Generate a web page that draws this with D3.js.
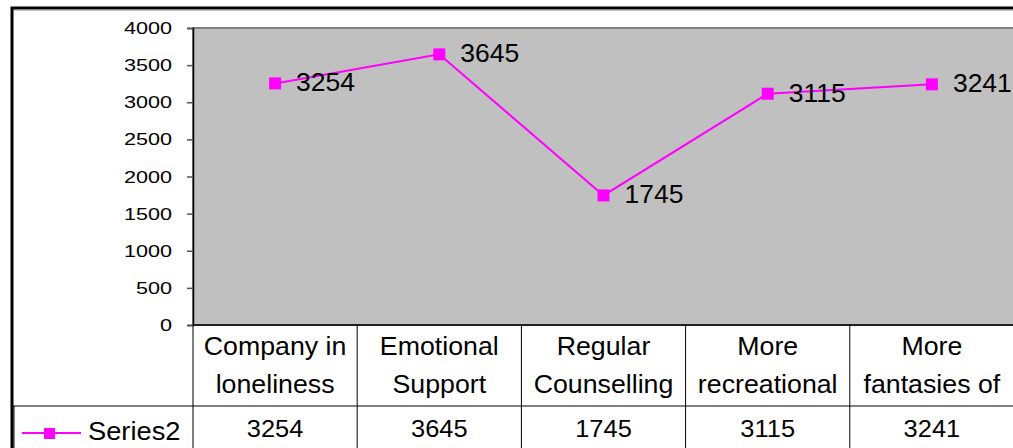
<!DOCTYPE html>
<html>
<head>
<meta charset="utf-8">
<script src="https://cdn.jsdelivr.net/npm/d3@7"></script>
<style>
  html, body { margin: 0; padding: 0; background: #fff; overflow: hidden; }
  text { font-family: "Liberation Sans", Arial, sans-serif; fill: #000; }
</style>
</head>
<body>
<svg id="chart" width="1013" height="448"></svg>
<script>
const categories = [
  ['Company in', 'loneliness'],
  ['Emotional', 'Support'],
  ['Regular', 'Counselling'],
  ['More', 'recreational'],
  ['More', 'fantasies of']
]
const seriesName = 'Series2'
const values = [3254, 3645, 1745, 3115, 3241]
const yTicks = [0, 500, 1000, 1500, 2000, 2500, 3000, 3500, 4000]

const svg = d3.select('#chart')

const plotLeft = 193
const plotRight = 1014
const plotTop = 28
const plotBottom = 325
const tableBottom = 406

const x = d3.scaleBand()
  .domain(d3.range(categories.length))
  .range([plotLeft, plotRight])
const y = d3.scaleLinear()
  .domain([0, 4000])
  .range([plotBottom, plotTop])
const cx = i => x(i) + x.bandwidth() / 2

// text in the source is a little wider than Liberation Sans
const label = (g, px, py, str, size, sx, anchor) => g.append('text')
  .attr('transform', `translate(${px},${py}) scale(${sx},1)`)
  .attr('text-anchor', anchor || 'start')
  .style('font-size', size + 'px')
  .text(str)

// outer frame
svg.append('rect')
  .attr('x', 12).attr('y', 8)
  .attr('width', 1040).attr('height', 480)
  .attr('fill', 'none')
  .attr('stroke', '#000')
  .attr('stroke-width', 3)
svg.append('line')
  .attr('x1', 14).attr('x2', 1013).attr('y1', 10).attr('y2', 10)
  .attr('stroke', '#888').attr('stroke-width', 1)

// plot area
svg.append('rect')
  .attr('x', plotLeft).attr('y', plotTop)
  .attr('width', plotRight - plotLeft).attr('height', plotBottom - plotTop)
  .attr('fill', '#c0c0c0')
  .attr('stroke', '#808080')
  .attr('stroke-width', 2)

// y axis
const yAxis = svg.append('g')
  .attr('transform', `translate(${plotLeft},0)`)
  .call(d3.axisLeft(y).tickValues(yTicks).tickSize(6).tickFormat(() => ''))
yAxis.select('.domain').attr('stroke', '#000').attr('stroke-width', 1.5)
yAxis.selectAll('.tick line').attr('stroke', '#555').attr('stroke-width', 1.5)
yTicks.forEach(t => label(svg, 172, y(t) + 6, d3.format('d')(t), 17, 1.27, 'end'))

// data table
const grid = svg.append('g').attr('stroke', '#000').attr('stroke-width', 1)
grid.append('line')
  .attr('x1', plotLeft).attr('x2', plotRight).attr('y1', plotBottom).attr('y2', plotBottom)
  .attr('stroke-width', 1.5)
grid.append('line')
  .attr('x1', 13).attr('x2', plotRight).attr('y1', tableBottom).attr('y2', tableBottom)
grid.append('line')
  .attr('x1', 14).attr('x2', 14).attr('y1', tableBottom).attr('y2', 460)
grid.selectAll('.vline')
  .data(d3.range(categories.length + 1))
  .enter().append('line')
  .attr('x1', i => i < categories.length ? x(i) : plotRight)
  .attr('x2', i => i < categories.length ? x(i) : plotRight)
  .attr('y1', plotBottom)
  .attr('y2', 460)

categories.forEach((lines, i) => {
  lines.forEach((t, j) => label(svg, cx(i), 355 + j * 38, t, 25, 1.07, 'middle'))
})
values.forEach((v, i) => label(svg, cx(i), 437, v, 24, 1.06, 'middle'))

// legend key in table
svg.append('line')
  .attr('x1', 22).attr('x2', 81).attr('y1', 433).attr('y2', 433)
  .attr('stroke', '#ff00ff').attr('stroke-width', 2)
svg.append('rect')
  .attr('x', 44).attr('y', 428).attr('width', 11).attr('height', 11)
  .attr('fill', '#ff00ff')
label(svg, 88, 440, seriesName, 26, 1.05)

// series line
const line = d3.line()
  .x((d, i) => cx(i))
  .y(d => y(d))
svg.append('path')
  .datum(values)
  .attr('d', line)
  .attr('fill', 'none')
  .attr('stroke', '#ff00ff')
  .attr('stroke-width', 2)

svg.selectAll('.pt')
  .data(values)
  .enter().append('rect')
  .attr('x', (d, i) => cx(i) - 6)
  .attr('y', d => y(d) - 6)
  .attr('width', 12)
  .attr('height', 12)
  .attr('fill', '#ff00ff')

values.forEach((v, i) => label(svg, cx(i) + 21, y(v) + 8, v, 25, 1.06))
</script>
</body>
</html>
